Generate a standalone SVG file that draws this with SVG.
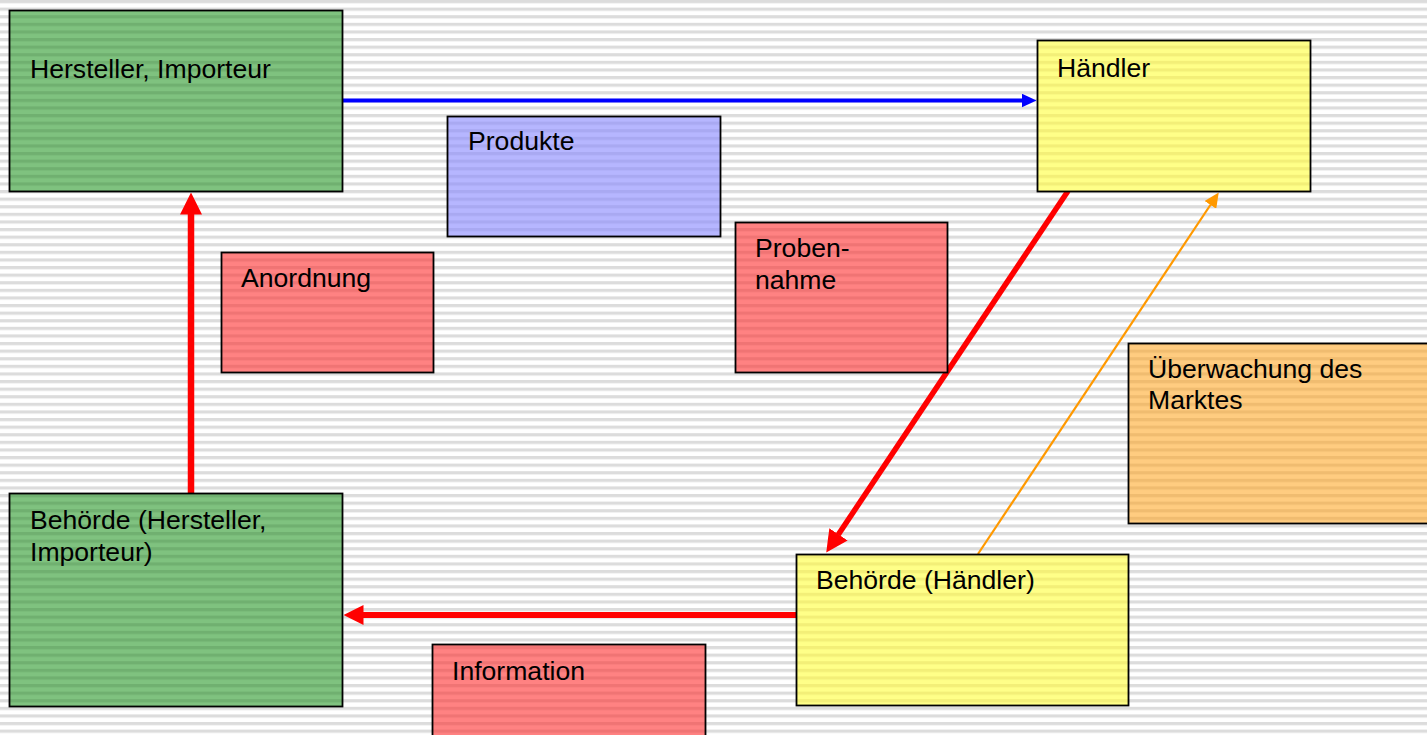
<svg xmlns="http://www.w3.org/2000/svg" width="1427" height="735" viewBox="0 0 1427 735">
<defs>
<pattern id="bg" patternUnits="userSpaceOnUse" width="20" height="7.6"><rect width="20" height="7.6" fill="#ffffff"/><rect y="0" width="20" height="3.2" fill="#dcdcdc"/></pattern>
<pattern id="pg" patternUnits="userSpaceOnUse" width="20" height="7.6"><rect width="20" height="7.6" fill="#7fc27f"/><rect width="20" height="3.2" fill="#70b070"/></pattern>
<pattern id="py" patternUnits="userSpaceOnUse" width="20" height="7.6"><rect width="20" height="7.6" fill="#ffff88"/><rect width="20" height="3.2" fill="#f3ef78"/></pattern>
<pattern id="pb" patternUnits="userSpaceOnUse" width="20" height="7.6"><rect width="20" height="7.6" fill="#b6b6ff"/><rect width="20" height="3.2" fill="#a9a9f2"/></pattern>
<pattern id="pr" patternUnits="userSpaceOnUse" width="20" height="7.6"><rect width="20" height="7.6" fill="#ff8282"/><rect width="20" height="3.2" fill="#f07474"/></pattern>
<pattern id="po" patternUnits="userSpaceOnUse" width="20" height="7.6"><rect width="20" height="7.6" fill="#ffcc80"/><rect width="20" height="3.2" fill="#f0bc70"/></pattern>
<marker id="hb" markerUnits="userSpaceOnUse" markerWidth="15" markerHeight="14" refX="0.5" refY="7" orient="auto"><path d="M0,0 L15,7 L0,14 z" fill="#0000ff"/></marker>
<marker id="hr" markerUnits="userSpaceOnUse" markerWidth="22" markerHeight="22" refX="0.5" refY="11" orient="auto"><path d="M0,0 L22,11 L0,22 z" fill="#ff0000"/></marker>
<marker id="hr2" markerUnits="userSpaceOnUse" markerWidth="20" markerHeight="20" refX="0.5" refY="10" orient="auto"><path d="M0,0 L20,10 L0,20 z" fill="#ff0000"/></marker>
<marker id="ho" markerUnits="userSpaceOnUse" markerWidth="15" markerHeight="14" refX="0.5" refY="7" orient="auto"><path d="M0,0 L15,7 L0,14 z" fill="#ff9900"/></marker>
</defs>
<style>
.box{stroke:#000;stroke-width:1.8}
text{font-family:"Liberation Sans",Arial,sans-serif;font-size:26.6px;fill:#000}
.c{fill:none}
</style>
<rect width="1427" height="735" fill="url(#bg)"/>
<g id="connectors">
<line class="c" x1="342" y1="100.5" x2="1022" y2="100.5" stroke="#0000ff" stroke-width="4" marker-end="url(#hb)"/>
<line class="c" x1="191" y1="493" x2="191" y2="214" stroke="#ff0000" stroke-width="6.5" marker-end="url(#hr)"/>
<line class="c" x1="1068" y1="191" x2="838.2" y2="534.7" stroke="#ff0000" stroke-width="5.5" marker-end="url(#hr)"/>
<line class="c" x1="978" y1="554" x2="1210.7" y2="204.5" stroke="#ff9900" stroke-width="2.2" marker-end="url(#ho)"/>
<line class="c" x1="796" y1="615" x2="363" y2="615" stroke="#ff0000" stroke-width="6" marker-end="url(#hr2)"/>
</g>
<g id="hersteller"><rect class="box" x="9.5" y="10.5" width="333" height="181" fill="url(#pg)"/><text x="30" y="78">Hersteller, Importeur</text></g>
<g id="haendler"><rect class="box" x="1037.5" y="40.5" width="273" height="151" fill="url(#py)"/><text x="1057" y="77">Händler</text></g>
<g id="produkte"><rect class="box" x="447.5" y="116.5" width="273" height="120" fill="url(#pb)"/><text x="468" y="150">Produkte</text></g>
<g id="anordnung"><rect class="box" x="221.5" y="252.5" width="212" height="120" fill="url(#pr)"/><text x="241" y="287">Anordnung</text></g>
<g id="probennahme"><rect class="box" x="735.5" y="222.5" width="212" height="150" fill="url(#pr)"/><text x="755" y="257">Proben-</text><text x="755" y="288.5">nahme</text></g>
<g id="ueberwachung"><rect class="box" x="1128.5" y="343.5" width="300" height="180" fill="url(#po)"/><text x="1148" y="377.5">Überwachung des</text><text x="1148" y="409">Marktes</text></g>
<g id="behoerde-hersteller"><rect class="box" x="9.5" y="493.5" width="333" height="213" fill="url(#pg)"/><text x="30" y="529">Behörde (Hersteller,</text><text x="30" y="560.5">Importeur)</text></g>
<g id="behoerde-haendler"><rect class="box" x="796.5" y="554.5" width="332" height="151" fill="url(#py)"/><text x="816" y="589">Behörde (Händler)</text></g>
<g id="information"><rect class="box" x="432.5" y="644.5" width="273" height="95" fill="url(#pr)"/><text x="452" y="680">Information</text></g>
</svg>
